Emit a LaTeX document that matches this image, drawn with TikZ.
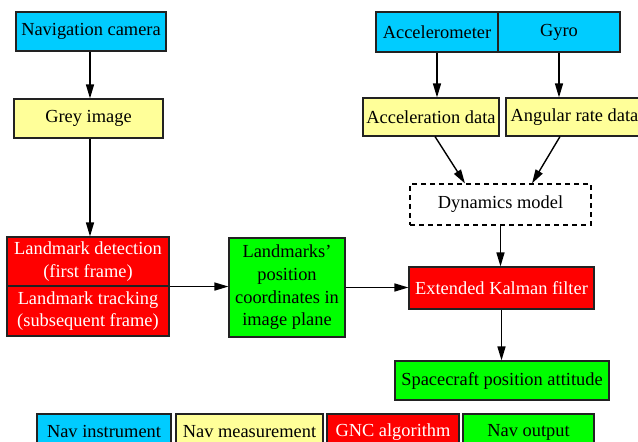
\documentclass[tikz,border=0pt]{standalone}
\usepackage{fontspec}
\setmainfont{Liberation Serif}
\usetikzlibrary{arrows.meta}
\definecolor{instr}{RGB}{0,204,255}
\definecolor{meas}{RGB}{255,255,153}
\definecolor{gnc}{RGB}{255,0,0}
\definecolor{outp}{RGB}{0,255,0}
\definecolor{edge}{RGB}{34,34,34}
\tikzset{
  box/.style={draw=edge, line width=0.55pt, inner sep=0pt, align=center,
    font=\fontsize{9.2}{11.3}\selectfont},
  instrbox/.style={box, fill=instr},
  measbox/.style={box, fill=meas},
  gncbox/.style={box, fill=gnc, text=white},
  outbox/.style={box, fill=outp},
  dynbox/.style={box, draw=black, dash pattern=on 2.5pt off 2pt, fill=white},
  arr/.style={draw=black, line width=0.7pt, -{Triangle[length=7pt,width=4pt]}}
}
\begin{document}
\begin{tikzpicture}[x=0.5pt,y=-0.5pt]
\useasboundingbox (0,0) rectangle (638,442);
% left chain
\node[instrbox, minimum width=75pt, minimum height=19.5pt] (nav) at (91,31.5) {Navigation camera};
\node[measbox, minimum width=74.5pt, minimum height=19.5pt] (grey) at (88.5,118.5) {Grey image};
\node[gncbox, minimum width=81pt, minimum height=24.5pt] (lmd) at (88,261.5) {Landmark detection\\(first frame)};
\node[gncbox, minimum width=81pt, minimum height=25pt] (lmt) at (88,311) {Landmark tracking\\(subsequent frame)};
\node[outbox, minimum width=58pt, minimum height=49.5pt] (green) at (287,287.5) {Landmarks’\\position\\coordinates in\\image plane};
% right chain
\node[instrbox, minimum width=61pt, minimum height=20pt] (acc) at (437,32) {Accelerometer};
\node[instrbox, minimum width=61pt, minimum height=20pt] (gyro) at (559,32) {Gyro};
\node[measbox, minimum width=68pt, minimum height=19pt] (accd) at (431,117) {Acceleration data};
\node[measbox, minimum width=68.5pt, minimum height=19pt] (angd) at (574.5,117) {Angular rate data};
\node[dynbox, minimum width=90.5pt, minimum height=20.5pt] (dyn) at (500.5,204.5) {Dynamics model};
\node[gncbox, minimum width=92.5pt, minimum height=21pt] (ekf) at (501.5,288) {Extended Kalman filter};
\node[outbox, minimum width=107pt, minimum height=19.5pt] (sc) at (502,380.5) {Spacecraft position attitude};
% legend
\node[instrbox, minimum width=67pt, minimum height=18pt] (lgi) at (104,432) {Nav instrument};
\node[measbox, minimum width=73.5pt, minimum height=18pt] (lgm) at (249.5,432) {Nav measurement};
\node[gncbox, minimum width=66pt, minimum height=18pt] (lgg) at (393,432) {GNC algorithm};
\node[outbox, minimum width=65.5pt, minimum height=18pt] (lgo) at (528.5,432) {Nav output};
% connectors
\coordinate (navs) at (90,51);
\draw[arr] (nav.south -| navs) -- (navs |- grey.north);
\draw[arr] (grey.south -| navs) -- (navs |- lmd.north);
\draw[arr] (lmd.south east) -- (lmd.south east -| green.west);
\draw[arr] (green.east) -- (green.east -| ekf.west);
\draw[arr] (acc.south) -- (acc.south |- accd.north);
\draw[arr] (gyro.south) -- (gyro.south |- angd.north);
\draw[arr] ([xshift=2pt]accd.south) -- ([xshift=-17.75pt]dyn.north);
\draw[arr] ([xshift=-7.25pt]angd.south) -- ([xshift=15.75pt]dyn.north);
\draw[arr] (dyn.south) -- (dyn.south |- ekf.north);
\draw[arr] (ekf.south) -- (ekf.south |- sc.north);
\end{tikzpicture}
\end{document}
